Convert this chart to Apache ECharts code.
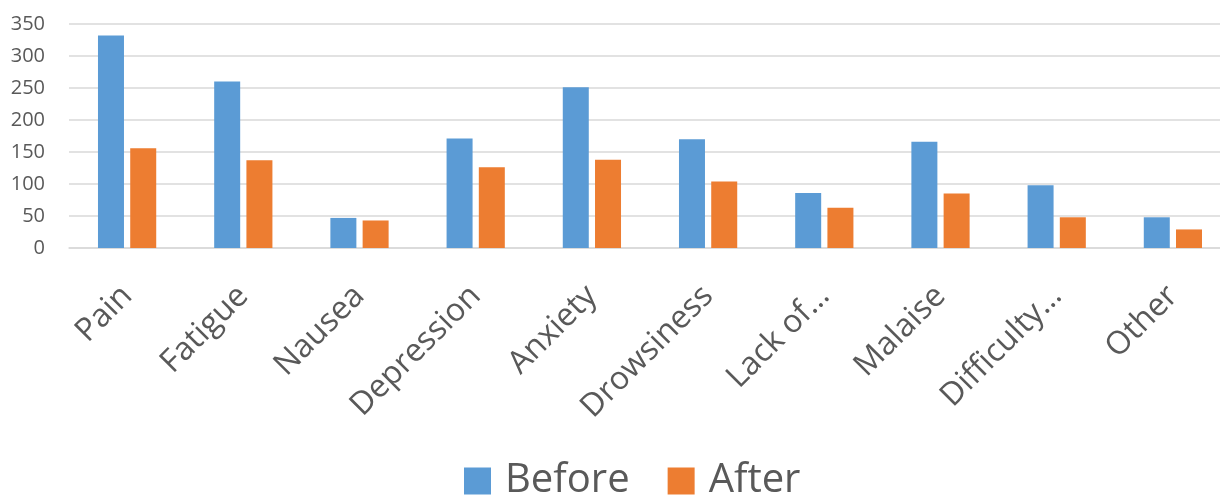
<!DOCTYPE html>
<html>
<head>
<meta charset="utf-8">
<script src="https://cdn.jsdelivr.net/npm/echarts@6/dist/echarts.min.js"></script>
<style>
  html, body { margin: 0; padding: 0; background: #fff; }
  #chart { width: 1220px; height: 497px; }
</style>
</head>
<body>
<div id="chart"></div>
<script>
// Symptom counts before and after treatment
const categories = ['Pain', 'Fatigue', 'Nausea', 'Depression', 'Anxiety', 'Drowsiness', 'Lack of…', 'Malaise', 'Difficulty…', 'Other'];
const beforeValues = [332, 260, 47, 171, 251, 170, 86, 166, 98, 48];
const afterValues = [156, 137, 43, 126, 138, 104, 63, 85, 48, 29];
const yTicks = { min: 0, max: 350, interval: 50 };

const textColor = '#595959';
const font = '"Open Sans", sans-serif';

const chart = echarts.init(document.getElementById('chart'));
chart.setOption({
  animation: false,
  grid: { left: 69, width: 1162, top: 24, bottom: 249, containLabel: false, outerBoundsMode: 'none' },
  legend: {
    data: ['Before', 'After'],
    bottom: -9,
    left: 459,
    itemWidth: 27,
    itemHeight: 27,
    itemGap: 38,
    icon: 'rect',
    textStyle: { fontFamily: font, fontSize: 40, color: textColor, padding: [0, 0, 0, 9] }
  },
  xAxis: {
    type: 'category',
    data: categories,
    axisLine: { show: true, lineStyle: { color: '#d9d9d9', width: 1.5 } },
    axisTick: { show: false },
    axisLabel: {
      interval: 0,
      rotate: 45,
      margin: 43,
      fontFamily: font,
      fontSize: 32,
      color: textColor
    }
  },
  yAxis: {
    type: 'value',
    min: yTicks.min,
    max: yTicks.max,
    interval: yTicks.interval,
    axisLine: { show: false },
    axisTick: { show: false },
    splitLine: { lineStyle: { color: '#d9d9d9', width: 1.5 } },
    axisLabel: { margin: 24, fontFamily: font, fontSize: 20, color: textColor }
  },
  series: [
    {
      name: 'Before',
      type: 'bar',
      data: beforeValues,
      barWidth: 26,
      barGap: '24%',
      itemStyle: { color: '#5B9BD5' }
    },
    {
      name: 'After',
      type: 'bar',
      data: afterValues,
      barWidth: 26,
      itemStyle: { color: '#ED7D31' }
    }
  ]
});
</script>
</body>
</html>
